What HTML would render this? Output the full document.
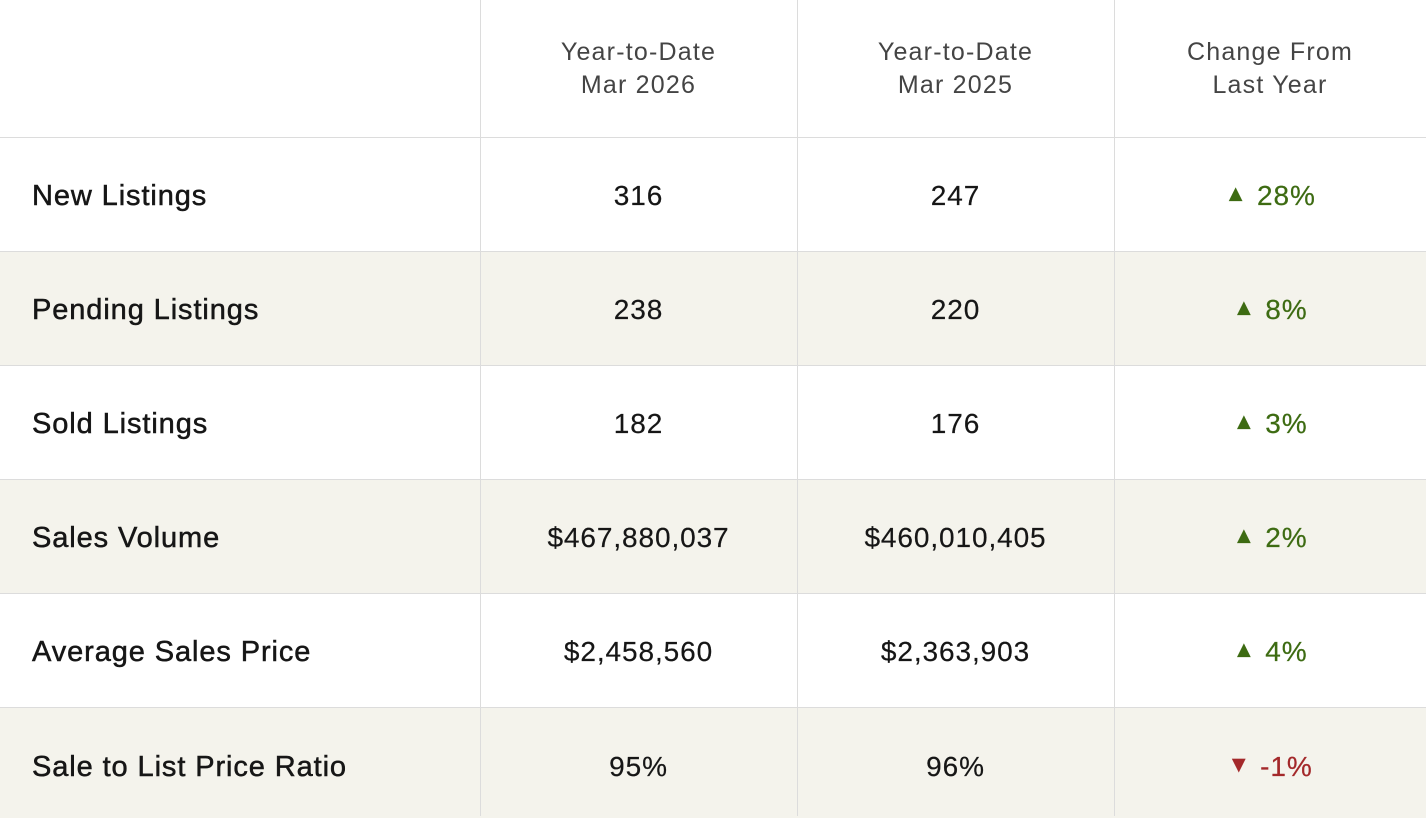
<!DOCTYPE html>
<html><head><style>
body{margin:0;width:1426px;height:816px;overflow:hidden;background:#fff;font-family:"Liberation Sans",sans-serif;}
.r{position:absolute;left:0;width:1426px;border-top:1px solid #dcdcdc;}
.alt{background:#f4f3ec;}
.v{position:absolute;top:0;height:816px;border-left:1px solid #dcdcdc;}
.t{position:absolute;display:flex;align-items:center;padding-top:3px;box-sizing:border-box;}
.lab{left:32px;font-size:29px;color:#161616;letter-spacing:0.9px;-webkit-text-stroke:0.5px #161616;padding-top:4px;}
.c{justify-content:center;font-size:28px;color:#161616;letter-spacing:0.9px;-webkit-text-stroke:0.2px #161616;}
.h{justify-content:center;text-align:center;font-size:25px;color:#444;line-height:33px;letter-spacing:1.2px;padding-top:0;}
.up{color:#3d6b12;-webkit-text-stroke:0.2px #3d6b12;}
.dn{color:#a3282a;-webkit-text-stroke:0.2px #a3282a;}
.tri{font-size:23px;margin-right:10px;position:relative;top:-2px;letter-spacing:0;}
</style></head><body>
<div class="r" style="top:137px;height:114px"></div>
<div class="r alt" style="top:251px;height:114px"></div>
<div class="r" style="top:365px;height:114px"></div>
<div class="r alt" style="top:479px;height:114px"></div>
<div class="r" style="top:593px;height:114px"></div>
<div class="r alt" style="top:707px;height:110px"></div>
<div class="v" style="left:480px"></div>
<div class="v" style="left:797px"></div>
<div class="v" style="left:1114px"></div>

<div class="t h" style="left:480px;width:317px;top:0;height:137px">Year-to-Date<br>Mar 2026</div>
<div class="t h" style="left:797px;width:317px;top:0;height:137px">Year-to-Date<br>Mar 2025</div>
<div class="t h" style="left:1114px;width:312px;top:0;height:137px">Change From<br>Last Year</div>

<div class="t lab" style="top:137px;height:114px">New Listings</div>
<div class="t c" style="left:480px;width:317px;top:137px;height:114px">316</div>
<div class="t c" style="left:797px;width:317px;top:137px;height:114px">247</div>
<div class="t c up" style="left:1114px;width:312px;top:137px;height:114px"><span class="tri">▲</span>28%</div>

<div class="t lab" style="top:251px;height:114px">Pending Listings</div>
<div class="t c" style="left:480px;width:317px;top:251px;height:114px">238</div>
<div class="t c" style="left:797px;width:317px;top:251px;height:114px">220</div>
<div class="t c up" style="left:1114px;width:312px;top:251px;height:114px"><span class="tri">▲</span>8%</div>

<div class="t lab" style="top:365px;height:114px">Sold Listings</div>
<div class="t c" style="left:480px;width:317px;top:365px;height:114px">182</div>
<div class="t c" style="left:797px;width:317px;top:365px;height:114px">176</div>
<div class="t c up" style="left:1114px;width:312px;top:365px;height:114px"><span class="tri">▲</span>3%</div>

<div class="t lab" style="top:479px;height:114px">Sales Volume</div>
<div class="t c" style="left:480px;width:317px;top:479px;height:114px">$467,880,037</div>
<div class="t c" style="left:797px;width:317px;top:479px;height:114px">$460,010,405</div>
<div class="t c up" style="left:1114px;width:312px;top:479px;height:114px"><span class="tri">▲</span>2%</div>

<div class="t lab" style="top:593px;height:114px">Average Sales Price</div>
<div class="t c" style="left:480px;width:317px;top:593px;height:114px">$2,458,560</div>
<div class="t c" style="left:797px;width:317px;top:593px;height:114px">$2,363,903</div>
<div class="t c up" style="left:1114px;width:312px;top:593px;height:114px"><span class="tri">▲</span>4%</div>

<div class="t lab" style="top:707px;height:116px">Sale to List Price Ratio</div>
<div class="t c" style="left:480px;width:317px;top:707px;height:116px">95%</div>
<div class="t c" style="left:797px;width:317px;top:707px;height:116px">96%</div>
<div class="t c dn" style="left:1114px;width:312px;top:707px;height:116px"><span class="tri">▼</span>-1%</div>
</body></html>
